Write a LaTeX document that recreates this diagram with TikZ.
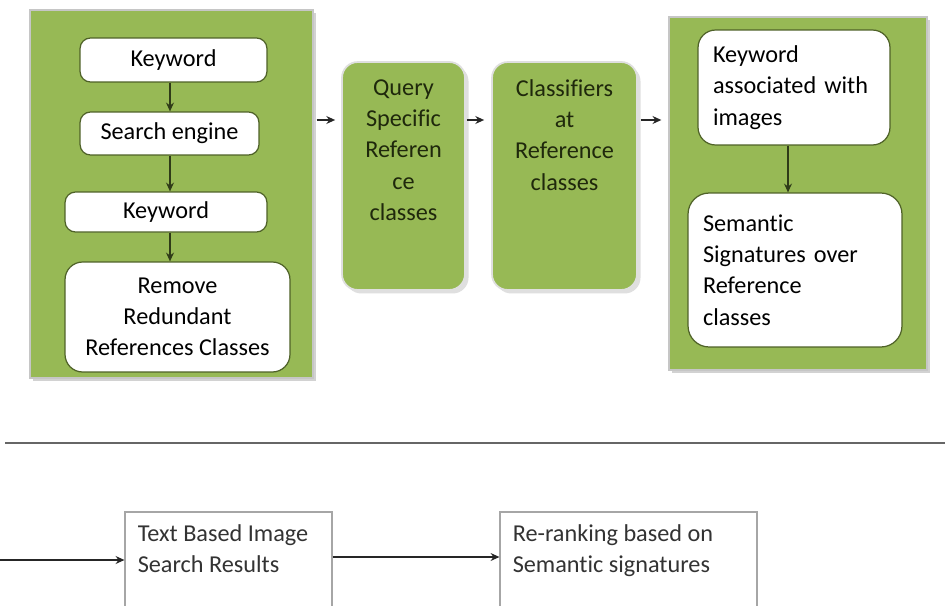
\documentclass[tikz,border=0pt]{standalone}
\usepackage{fontspec}
\setmainfont[Ligatures=NoCommon]{Carlito}
\usetikzlibrary{arrows.meta,shadows}
\definecolor{panelgreen}{HTML}{97B955}
\definecolor{boxedge}{HTML}{4F6228}
\definecolor{greentext}{HTML}{1F280C}

\begin{document}
\begin{tikzpicture}[
    x=0.02cm, y=-0.02cm,
    font=\fontsize{13.8}{17.8}\selectfont,
    panel/.style={
        draw=gray!45,
        fill=panelgreen,
        line width=0.8pt,
        drop shadow={shadow xshift=1.5pt, shadow yshift=-1.5pt, opacity=0.35}
    },
    wbox/.style={
        draw=boxedge,
        fill=white,
        rounded corners=6pt,
        line width=0.7pt,
        align=center
    },
    gbox/.style={
        draw=gray!25,
        fill=panelgreen,
        rounded corners=9pt,
        line width=1pt,
        drop shadow={shadow xshift=2pt, shadow yshift=-2pt, opacity=0.25}
    },
    gtext/.style={align=center, text=greentext, inner sep=0pt, anchor=north},
    plainbox/.style={draw=gray!70, line width=0.7pt},
    btext/.style={align=left, text=black!80, inner sep=0pt, anchor=north west},
    arrow/.style={-{Stealth[length=5pt,width=4.5pt]}, line width=0.8pt, black!85}
]

\clip (0,0) rectangle (945,605);
\fill[white] (0,0) rectangle (945,605);

% ============================================================
% LEFT PANEL
% ============================================================
\node[panel, minimum width=5.66cm, minimum height=7.36cm] (panelL) at (171.5,194) {};
\node[wbox, minimum width=3.74cm, minimum height=0.88cm] (kw1) at (173.5,60) {Keyword};
\node[wbox, minimum width=3.58cm, minimum height=0.86cm] (search) at (169.5,133.5) {Search engine};
\node[wbox, minimum width=4.04cm, minimum height=0.80cm] (kw2) at (166,212) {Keyword};
\node[wbox, minimum width=4.50cm, minimum height=2.20cm, rounded corners=10pt] (remove) at (177.5,317)
    {Remove\\Redundant\\References Classes};

\draw[arrow, boxedge!60!black] (kw1.south -| 170,0) -- (search.north -| 170,0);
\draw[arrow, boxedge!60!black] (search.south -| 170,0) -- (kw2.north -| 170,0);
\draw[arrow, boxedge!60!black] (kw2.south -| 170,0) -- (remove.north -| 170,0);

% ============================================================
% REFERENCE CLASSES
% ============================================================
\node[gbox, minimum width=2.46cm, minimum height=4.56cm] (query) at (403.5,176) {};
\node[gtext, yshift=-0.36cm] (querytxt) at (query.north) {Query\\Specific\\Referen\\ce\\classes};
\node[gbox, minimum width=2.90cm, minimum height=4.56cm] (classif) at (564.5,176) {};
\node[gtext, yshift=-0.36cm] (classiftxt) at (classif.north) {Classifiers\\at\\Reference\\classes};

% ============================================================
% RIGHT PANEL
% ============================================================
\node[panel, minimum width=5.16cm, minimum height=7.06cm] (panelR) at (798,193.5) {};
\node[wbox, minimum width=3.84cm, minimum height=2.30cm, rounded corners=10pt,
      text width=3.24cm, align=left] (kwimg) at (794,87.5)
    {Keyword\\associated with\\images};
\node[wbox, minimum width=4.28cm, minimum height=3.08cm, rounded corners=12pt,
      text width=3.68cm, align=left] (sem) at (795,270)
    {Semantic\\Signatures over\\Reference\\classes};

\draw[arrow, boxedge!60!black] (kwimg.south -| 788,0) -- (sem.north -| 788,0);

\coordinate (row) at (0,120);
\draw[arrow] ([xshift=0.06cm]panelL.east |- row) -- ([xshift=-0.12cm]query.west |- row);
\draw[arrow] ([xshift=0.02cm]query.east |- row) -- ([xshift=-0.14cm]classif.west |- row);
\draw[arrow] ([xshift=0.06cm]classif.east |- row) -- ([xshift=-0.14cm]panelR.west |- row);

% ============================================================
% SEPARATOR + RE-RANKING
% ============================================================
\coordinate (sepL) at (5,443);
\coordinate (sepR) at (945,443);
\draw[gray!80!black, line width=1pt] (sepL) -- (sepR);

\node[plainbox, minimum width=4.14cm, minimum height=2.40cm] (results) at (228.5,572) {};
\node[btext] (resultstxt) at ([xshift=0.26cm, yshift=-0.26cm]results.north west)
    {Text Based Image\\Search Results};
\node[plainbox, minimum width=5.14cm, minimum height=2.40cm] (rerank) at (628.5,572) {};
\node[btext] (reranktxt) at ([xshift=0.26cm, yshift=-0.26cm]rerank.north west)
    {Re-ranking based on\\Semantic signatures};

\coordinate (start) at (0,560);
\draw[arrow] (start) -- (results.west |- start);
\draw[arrow] (results.east |- 0,557) -- (rerank.west |- 0,557);

\end{tikzpicture}
\end{document}
